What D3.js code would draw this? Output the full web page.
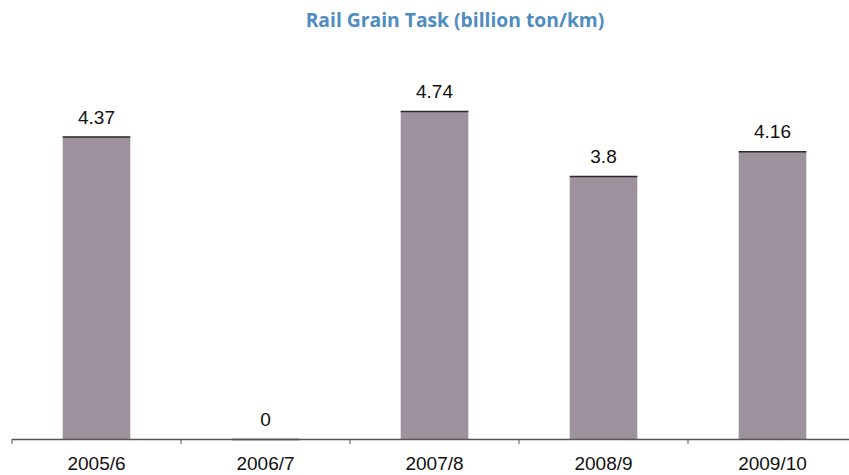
<!DOCTYPE html>
<html>
<head>
<meta charset="utf-8">
<script src="https://cdn.jsdelivr.net/npm/d3@7"></script>
<style>
  body { margin: 0; background: #fff; }
  svg { display: block; }
</style>
</head>
<body>
<div id="chart"></div>
<script>
// data
const categories = ["2005/6", "2006/7", "2007/8", "2008/9", "2009/10"];
const values = [4.37, 0, 4.74, 3.8, 4.16];
const valueLabels = ["4.37", "0", "4.74", "3.8", "4.16"];
const title = "Rail Grain Task (billion ton/km)";

const W = 849, H = 475;
const margin = { top: 93, right: -8, bottom: 36, left: 12 };
const width = W - margin.left - margin.right;
const height = H - margin.top - margin.bottom;

const svg = d3.select("#chart").append("svg")
    .attr("width", W)
    .attr("height", H);

svg.append("text")
    .attr("x", 455)
    .attr("y", 27)
    .attr("text-anchor", "middle")
    .style("font-family", "'Open Sans', sans-serif")
    .style("font-weight", "bold")
    .style("font-size", "19.3px")
    .style("fill", "#4f8cbf")
    .text(title);

const g = svg.append("g")
    .attr("transform", `translate(${margin.left},${margin.top})`);

const x = d3.scaleBand()
    .domain(categories)
    .range([0, width])
    .paddingInner(0.6)
    .paddingOuter(0.3);

const y = d3.scaleLinear()
    .domain([0, 5])
    .range([height, 0]);

// bars
g.selectAll(".bar")
    .data(values)
    .enter().append("rect")
    .attr("class", "bar")
    .attr("x", (d, i) => x(categories[i]))
    .attr("y", d => y(d))
    .attr("width", x.bandwidth())
    .attr("height", d => height - y(d))
    .attr("fill", "#9c919d");

// dark top edge on each bar
g.selectAll(".cap")
    .data(values)
    .enter().append("line")
    .attr("class", "cap")
    .attr("x1", (d, i) => x(categories[i]))
    .attr("x2", (d, i) => x(categories[i]) + x.bandwidth())
    .attr("y1", d => y(d) + 0.5)
    .attr("y2", d => y(d) + 0.5)
    .attr("stroke", "#2a2a2a")
    .attr("stroke-width", 1.5);

// value labels
g.selectAll(".val")
    .data(values)
    .enter().append("text")
    .attr("class", "val")
    .attr("x", (d, i) => x(categories[i]) + x.bandwidth() / 2)
    .attr("y", d => y(d) - 13)
    .attr("text-anchor", "middle")
    .style("font-family", "'Liberation Sans', Arial, sans-serif")
    .style("font-size", "19px")
    .style("fill", "#111")
    .text((d, i) => valueLabels[i]);

// x axis: baseline with ticks between categories
const boundaries = d3.range(categories.length + 1).map(i => i * width / categories.length);

const axis = g.append("g").attr("transform", `translate(0,${height})`);
axis.append("line")
    .attr("x1", 0).attr("x2", width)
    .attr("y1", 0.5).attr("y2", 0.5)
    .attr("stroke", "#555")
    .attr("stroke-width", 1.5);
axis.selectAll(".tick")
    .data(boundaries)
    .enter().append("line")
    .attr("class", "tick")
    .attr("x1", d => d).attr("x2", d => d)
    .attr("y1", 0).attr("y2", 5)
    .attr("stroke", "#555")
    .attr("stroke-width", 1);
axis.selectAll(".cat")
    .data(categories)
    .enter().append("text")
    .attr("class", "cat")
    .attr("x", d => x(d) + x.bandwidth() / 2)
    .attr("y", 31)
    .attr("text-anchor", "middle")
    .style("font-family", "'Liberation Sans', Arial, sans-serif")
    .style("font-size", "19px")
    .style("fill", "#111")
    .text(d => d);
</script>
</body>
</html>
